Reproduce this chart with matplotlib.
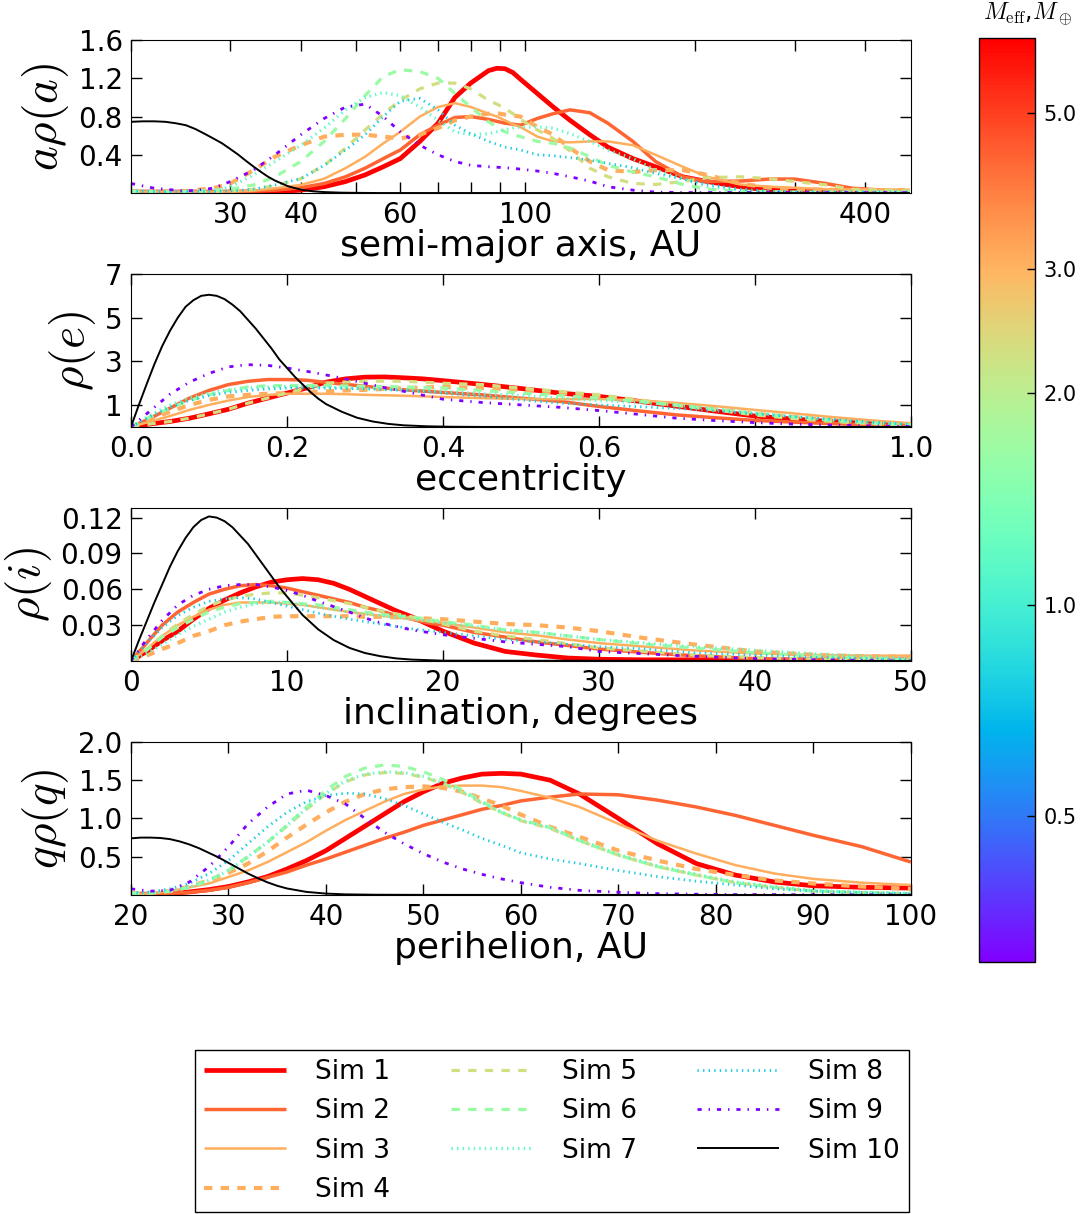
import numpy as np
import matplotlib
matplotlib.use('Agg')
import matplotlib.pyplot as plt
from matplotlib.colors import LogNorm
from matplotlib.cm import ScalarMappable

plt.rcParams['mathtext.fontset'] = 'cm'
plt.rcParams['font.family'] = ['DejaVu Sans']
plt.rcParams['lines.scale_dashes'] = False

# ---------------- data ----------------
SIM_LABELS = ['Sim 1', 'Sim 2', 'Sim 3', 'Sim 4', 'Sim 5', 'Sim 6', 'Sim 7', 'Sim 8', 'Sim 9', 'Sim 10']
SIM_MASS = [6.4, 4.3, 3.1, 3.1, 2.3, 1.65, 1.14, 0.77, 0.31, None]   # M_eff in Earth masses (None -> black)
MASS_MIN, MASS_MAX = 0.31, 6.4
CBAR_TICKS = [0.5, 1.0, 2.0, 3.0, 5.0]

# ---- semi-major axis (AU) and a*rho(a) ----
A_GRID = [20, 22, 25, 28, 30, 33, 36, 40, 44, 48, 52, 56, 60, 65, 70, 75, 80, 86, 89, 92, 95, 98,
          105, 112, 120, 130, 140, 155, 170, 190, 210, 240, 270, 300, 340, 380, 430, 480]
a_sim1 = [0.01, 0.01, 0.01, 0.01, 0.01, 0.01, 0.012, 0.03, 0.066, 0.12, 0.19, 0.275, 0.36, 0.54, 0.73, 1.0, 1.15, 1.28, 1.305, 1.30, 1.26, 1.19,
          1.04, 0.90, 0.76, 0.61, 0.48, 0.36, 0.275, 0.17, 0.12, 0.066, 0.03, 0.02, 0.015, 0.015, 0.015, 0.015]
a_sim2 = [0.01, 0.01, 0.01, 0.01, 0.012, 0.02, 0.03, 0.056, 0.10, 0.17, 0.26, 0.36, 0.45, 0.61, 0.71, 0.79, 0.80, 0.77, 0.75, 0.73, 0.72, 0.71,
          0.78, 0.83, 0.87, 0.84, 0.73, 0.54, 0.33, 0.17, 0.12, 0.125, 0.146, 0.146, 0.10, 0.05, 0.03, 0.02]
a_sim3 = [0.015, 0.015, 0.015, 0.015, 0.015, 0.025, 0.05, 0.085, 0.15, 0.26, 0.38, 0.52, 0.64, 0.80, 0.90, 0.94, 0.90, 0.83, 0.80, 0.76, 0.72, 0.69,
          0.59, 0.54, 0.53, 0.54, 0.54, 0.50, 0.40, 0.275, 0.17, 0.09, 0.066, 0.056, 0.04, 0.038, 0.035, 0.035]
a_sim4 = [0.015, 0.015, 0.02, 0.05, 0.10, 0.24, 0.38, 0.50, 0.59, 0.61, 0.61, 0.59, 0.57, 0.61, 0.68, 0.76, 0.80, 0.83, 0.835, 0.82, 0.81, 0.80,
          0.69, 0.61, 0.47, 0.33, 0.24, 0.22, 0.24, 0.24, 0.19, 0.10, 0.056, 0.04, 0.035, 0.03, 0.03, 0.03]
a_sim5 = [0.015, 0.015, 0.015, 0.015, 0.02, 0.04, 0.077, 0.15, 0.29, 0.47, 0.66, 0.83, 0.97, 1.09, 1.15, 1.15, 1.09, 0.97, 0.93, 0.885, 0.83, 0.77,
          0.66, 0.57, 0.44, 0.26, 0.17, 0.10, 0.09, 0.12, 0.16, 0.17, 0.15, 0.12, 0.085, 0.04, 0.03, 0.02]
a_sim6 = [0.015, 0.015, 0.015, 0.03, 0.04, 0.085, 0.17, 0.33, 0.54, 0.78, 1.02, 1.22, 1.29, 1.27, 1.20, 1.04, 0.90, 0.745, 0.69, 0.64, 0.61, 0.59,
          0.54, 0.52, 0.47, 0.38, 0.29, 0.22, 0.17, 0.09, 0.04, 0.02, 0.015, 0.01, 0.01, 0.01, 0.01, 0.01]
a_sim7 = [0.03, 0.02, 0.02, 0.02, 0.066, 0.19, 0.33, 0.50, 0.68, 0.87, 1.0, 1.05, 1.02, 0.90, 0.76, 0.64, 0.61, 0.62, 0.64, 0.66, 0.68, 0.69,
          0.69, 0.68, 0.62, 0.54, 0.45, 0.36, 0.24, 0.15, 0.066, 0.03, 0.015, 0.01, 0.01, 0.01, 0.01, 0.01]
a_sim8 = [0.02, 0.015, 0.015, 0.015, 0.02, 0.04, 0.085, 0.15, 0.29, 0.45, 0.61, 0.80, 0.96, 0.99, 0.87, 0.71, 0.62, 0.54, 0.51, 0.48, 0.465, 0.45,
          0.40, 0.39, 0.37, 0.345, 0.31, 0.265, 0.205, 0.146, 0.09, 0.04, 0.02, 0.01, 0.01, 0.01, 0.01, 0.01]
a_sim9 = [0.10, 0.05, 0.02, 0.05, 0.12, 0.24, 0.40, 0.61, 0.78, 0.90, 0.93, 0.80, 0.64, 0.50, 0.40, 0.33, 0.29, 0.275, 0.27, 0.265, 0.258, 0.25,
          0.23, 0.205, 0.17, 0.125, 0.066, 0.03, 0.01, 0.005, 0.005, 0.005, 0.005, 0.005, 0.005, 0.005, 0.005, 0.005]
A_GRID_SIM10 = [20, 21, 22, 23, 24, 25, 26, 27, 28, 29, 30, 31, 32, 33, 34, 35, 36, 38, 40, 42, 44, 47, 50, 55, 60, 480]
a_sim10 = [0.745, 0.75, 0.75, 0.745, 0.73, 0.71, 0.67, 0.62, 0.57, 0.52, 0.46, 0.40, 0.335, 0.275, 0.22, 0.17, 0.13,
           0.07, 0.035, 0.018, 0.01, 0.004, 0.002, 0.0, 0.0, 0.0]

# ---- eccentricity and rho(e) ----
E_GRID = [0.0, 0.025, 0.05, 0.075, 0.1, 0.125, 0.15, 0.175, 0.2, 0.225, 0.25, 0.275, 0.3, 0.325, 0.35, 0.375, 0.4,
          0.45, 0.5, 0.55, 0.6, 0.65, 0.7, 0.75, 0.8, 0.85, 0.9, 0.95, 1.0]
e_sim1 = [0, 0.14, 0.25, 0.4, 0.6, 0.81, 1.09, 1.32, 1.55, 1.78, 2.05, 2.2, 2.28, 2.29, 2.25, 2.2, 2.12,
          1.95, 1.76, 1.55, 1.4, 1.18, 0.95, 0.72, 0.5, 0.36, 0.25, 0.15, 0.08]
e_sim2 = [0, 0.4, 0.86, 1.32, 1.67, 1.94, 2.09, 2.17, 2.17, 2.14, 2.04, 1.95, 1.86, 1.78, 1.7, 1.64, 1.58,
          1.47, 1.32, 1.17, 0.94, 0.74, 0.55, 0.42, 0.3, 0.22, 0.15, 0.09, 0.05]
e_sim3 = [0, 0.25, 0.5, 0.78, 1.01, 1.21, 1.37, 1.46, 1.52, 1.52, 1.52, 1.5, 1.47, 1.45, 1.43, 1.4, 1.37,
          1.32, 1.28, 1.27, 1.28, 1.22, 1.1, 0.95, 0.78, 0.62, 0.45, 0.3, 0.17]
e_sim4 = [0, 0.35, 0.7, 1.0, 1.24, 1.4, 1.47, 1.52, 1.55, 1.6, 1.63, 1.67, 1.7, 1.74, 1.78, 1.81, 1.83,
          1.78, 1.7, 1.55, 1.4, 1.2, 1.0, 0.8, 0.6, 0.45, 0.3, 0.18, 0.1]
e_sim5 = [0, 0.14, 0.25, 0.4, 0.6, 0.81, 1.09, 1.32, 1.55, 1.8, 2.0, 2.06, 2.09, 2.1, 2.09, 2.05, 2.0,
          1.94, 1.78, 1.63, 1.47, 1.25, 1.0, 0.78, 0.55, 0.38, 0.25, 0.15, 0.08]
e_sim6 = [0, 0.48, 0.86, 1.21, 1.47, 1.67, 1.83, 1.89, 1.9, 1.9, 1.89, 1.88, 1.86, 1.85, 1.83, 1.8, 1.78,
          1.67, 1.55, 1.43, 1.32, 1.17, 1.0, 0.8, 0.6, 0.45, 0.3, 0.18, 0.1]
e_sim7 = [0, 0.55, 1.0, 1.32, 1.55, 1.7, 1.78, 1.83, 1.86, 1.85, 1.83, 1.8, 1.78, 1.74, 1.7, 1.67, 1.63,
          1.52, 1.43, 1.32, 1.21, 1.12, 1.0, 0.83, 0.65, 0.47, 0.3, 0.18, 0.1]
e_sim8 = [0, 0.48, 0.9, 1.21, 1.43, 1.58, 1.67, 1.74, 1.78, 1.78, 1.78, 1.76, 1.74, 1.71, 1.67, 1.61, 1.55,
          1.4, 1.24, 1.09, 1.01, 0.93, 0.85, 0.73, 0.6, 0.47, 0.35, 0.22, 0.12]
e_sim9 = [0, 0.75, 1.5, 2.05, 2.45, 2.75, 2.85, 2.82, 2.7, 2.55, 2.38, 2.2, 2.0, 1.8, 1.63, 1.45, 1.27,
          1.12, 1.01, 0.9, 0.75, 0.58, 0.4, 0.29, 0.2, 0.13, 0.08, 0.045, 0.02]
E_GRID_SIM10 = [0.0, 0.01, 0.02, 0.03, 0.04, 0.05, 0.06, 0.07, 0.08, 0.09, 0.1, 0.11, 0.12, 0.13, 0.14, 0.15, 0.16,
                0.17, 0.18, 0.19, 0.2, 0.21, 0.22, 0.23, 0.24, 0.25, 0.27, 0.29, 0.31, 0.33, 0.35, 0.38, 0.41, 0.45, 1.0]
e_sim10 = [0, 1.0, 1.95, 2.87, 3.7, 4.4, 5.0, 5.5, 5.8, 6.0, 6.05, 6.0, 5.85, 5.6, 5.3, 4.9, 4.5,
           4.05, 3.6, 3.1, 2.7, 2.3, 1.95, 1.6, 1.3, 1.05, 0.7, 0.42, 0.25, 0.14, 0.075, 0.03, 0.01, 0.002, 0.0]

# ---- inclination (deg) and rho(i) ----
I_GRID = [0, 1, 2, 3, 4, 5, 6, 7, 8, 9, 10, 11, 12, 13, 14, 15, 16, 17, 18, 19, 20,
          22, 24, 26, 28, 30, 33, 36, 40, 44, 47, 50]
i_sim1 = [0, 0.008, 0.017, 0.025, 0.035, 0.044, 0.051, 0.057, 0.062, 0.066, 0.068, 0.069, 0.068, 0.065, 0.06, 0.054, 0.048, 0.042, 0.037, 0.031, 0.025,
          0.015, 0.008, 0.005, 0.0025, 0.0015, 0.001, 0.001, 0.001, 0.001, 0.001, 0.001]
i_sim2 = [0, 0.015, 0.03, 0.041, 0.049, 0.056, 0.06, 0.063, 0.064, 0.063, 0.061, 0.058, 0.055, 0.052, 0.049, 0.045, 0.042, 0.038, 0.035, 0.032, 0.03,
          0.024, 0.02, 0.016, 0.013, 0.01, 0.007, 0.0045, 0.002, 0.001, 0.001, 0.001]
i_sim3 = [0, 0.01, 0.021, 0.03, 0.037, 0.043, 0.047, 0.049, 0.049, 0.049, 0.048, 0.047, 0.045, 0.043, 0.041, 0.0395, 0.038, 0.0365, 0.035, 0.0335, 0.032,
          0.028, 0.024, 0.0215, 0.018, 0.015, 0.012, 0.009, 0.0063, 0.005, 0.0045, 0.0045]
i_sim4 = [0, 0.0045, 0.01, 0.015, 0.021, 0.025, 0.03, 0.033, 0.035, 0.037, 0.0375, 0.0375, 0.0375, 0.0375, 0.0375, 0.037, 0.037, 0.0365, 0.036, 0.0355, 0.035,
          0.033, 0.031, 0.03, 0.028, 0.025, 0.019, 0.014, 0.008, 0.005, 0.004, 0.0034]
i_sim5 = [0, 0.01, 0.021, 0.031, 0.039, 0.046, 0.051, 0.054, 0.056, 0.057, 0.057, 0.055, 0.053, 0.0505, 0.048, 0.045, 0.042, 0.0395, 0.037, 0.034, 0.031,
          0.025, 0.021, 0.018, 0.0145, 0.011, 0.008, 0.005, 0.003, 0.0015, 0.001, 0.0005]
i_sim6 = [0, 0.009, 0.02, 0.028, 0.035, 0.041, 0.045, 0.048, 0.049, 0.05, 0.049, 0.048, 0.047, 0.045, 0.043, 0.041, 0.039, 0.038, 0.037, 0.035, 0.033,
          0.03, 0.026, 0.024, 0.021, 0.018, 0.014, 0.011, 0.007, 0.004, 0.0025, 0.001]
i_sim7 = [0, 0.006, 0.014, 0.022, 0.029, 0.035, 0.041, 0.045, 0.048, 0.049, 0.049, 0.047, 0.045, 0.043, 0.041, 0.0395, 0.038, 0.0365, 0.035, 0.0335, 0.032,
          0.029, 0.026, 0.024, 0.021, 0.018, 0.015, 0.012, 0.009, 0.006, 0.004, 0.002]
i_sim8 = [0, 0.015, 0.028, 0.038, 0.045, 0.05, 0.052, 0.053, 0.052, 0.049, 0.046, 0.043, 0.04, 0.0375, 0.035, 0.033, 0.031, 0.029, 0.027, 0.0255, 0.024,
          0.021, 0.018, 0.016, 0.014, 0.012, 0.01, 0.007, 0.005, 0.003, 0.002, 0.001]
i_sim9 = [0, 0.018, 0.034, 0.047, 0.055, 0.06, 0.063, 0.064, 0.064, 0.062, 0.059, 0.055, 0.05, 0.0455, 0.041, 0.036, 0.032, 0.029, 0.026, 0.024, 0.022,
          0.019, 0.016, 0.014, 0.012, 0.008, 0.006, 0.004, 0.002, 0.001, 0.0005, 0.0]
I_GRID_SIM10 = [0, 0.5, 1, 1.5, 2, 2.5, 3, 3.5, 4, 4.5, 5, 5.5, 6, 6.5, 7, 7.5, 8, 8.5, 9, 9.5, 10,
                11, 12, 13, 14, 15, 16, 17, 18, 20, 50]
i_sim10 = [0, 0.017, 0.033, 0.049, 0.064, 0.079, 0.092, 0.103, 0.112, 0.118, 0.121, 0.12, 0.117, 0.112, 0.105, 0.098, 0.089, 0.08, 0.071, 0.062, 0.054,
           0.0385, 0.0265, 0.0175, 0.011, 0.0067, 0.004, 0.0022, 0.0012, 0.0003, 0.0]

# ---- perihelion (AU) and q*rho(q) ----
Q_GRID = [20, 22, 24, 26, 28, 30, 32, 34, 36, 38, 40, 42, 44, 46, 48, 50, 52, 54, 56, 58, 60, 63, 66, 70, 74, 78, 82, 86, 90, 95, 100]
q_sim1 = [0.01, 0.01, 0.02, 0.04, 0.07, 0.11, 0.17, 0.24, 0.34, 0.45, 0.58, 0.74, 0.90, 1.06, 1.22, 1.35, 1.46, 1.53, 1.58, 1.59, 1.58, 1.50, 1.32, 1.0, 0.67, 0.41, 0.26, 0.17, 0.12, 0.1, 0.09]
q_sim2 = [0.005, 0.01, 0.02, 0.035, 0.06, 0.10, 0.16, 0.23, 0.30, 0.39, 0.47, 0.56, 0.65, 0.74, 0.82, 0.91, 0.98, 1.05, 1.12, 1.17, 1.23, 1.28, 1.32, 1.31, 1.24, 1.15, 1.04, 0.91, 0.78, 0.63, 0.43]
q_sim3 = [0.01, 0.02, 0.05, 0.10, 0.15, 0.235, 0.32, 0.43, 0.56, 0.69, 0.84, 0.98, 1.10, 1.22, 1.32, 1.38, 1.42, 1.43, 1.43, 1.41, 1.36, 1.27, 1.15, 0.93, 0.71, 0.54, 0.39, 0.28, 0.21, 0.16, 0.13]
q_sim4 = [0.02, 0.025, 0.05, 0.11, 0.19, 0.29, 0.41, 0.57, 0.75, 0.92, 1.08, 1.22, 1.32, 1.38, 1.41, 1.42, 1.40, 1.35, 1.26, 1.17, 1.05, 0.89, 0.76, 0.58, 0.45, 0.34, 0.26, 0.19, 0.15, 0.11, 0.08]
q_sim5 = [0.02, 0.025, 0.05, 0.10, 0.19, 0.32, 0.50, 0.69, 0.90, 1.12, 1.32, 1.48, 1.57, 1.60, 1.59, 1.54, 1.46, 1.34, 1.20, 1.08, 0.97, 0.87, 0.71, 0.52, 0.37, 0.26, 0.16, 0.10, 0.05, 0.03, 0.017]
q_sim6 = [0.02, 0.025, 0.05, 0.10, 0.19, 0.32, 0.50, 0.69, 0.91, 1.15, 1.37, 1.55, 1.66, 1.70, 1.68, 1.61, 1.51, 1.37, 1.22, 1.08, 0.98, 0.88, 0.71, 0.52, 0.37, 0.26, 0.16, 0.10, 0.05, 0.03, 0.017]
q_sim7 = [0.02, 0.025, 0.05, 0.10, 0.19, 0.32, 0.50, 0.69, 0.91, 1.13, 1.33, 1.49, 1.58, 1.61, 1.60, 1.55, 1.46, 1.35, 1.21, 1.08, 0.98, 0.88, 0.72, 0.53, 0.38, 0.27, 0.17, 0.11, 0.06, 0.035, 0.02]
q_sim8 = [0.026, 0.04, 0.08, 0.15, 0.28, 0.45, 0.67, 0.89, 1.08, 1.22, 1.30, 1.33, 1.32, 1.26, 1.17, 1.06, 0.95, 0.85, 0.74, 0.65, 0.55, 0.47, 0.41, 0.32, 0.24, 0.18, 0.13, 0.08, 0.05, 0.03, 0.017]
q_sim9 = [0.08, 0.05, 0.06, 0.17, 0.37, 0.63, 0.93, 1.15, 1.32, 1.37, 1.30, 1.19, 1.0, 0.82, 0.67, 0.54, 0.43, 0.34, 0.27, 0.21, 0.16, 0.10, 0.06, 0.035, 0.017, 0.01, 0.005, 0.005, 0.003, 0.002, 0.001]
Q_GRID_SIM10 = [20, 21, 22, 23, 24, 25, 26, 27, 28, 29, 30, 31, 32, 33, 34, 35, 36, 38, 40, 42, 45, 50, 100]
q_sim10 = [0.74, 0.75, 0.75, 0.745, 0.73, 0.70, 0.66, 0.61, 0.55, 0.49, 0.42, 0.35, 0.28, 0.22, 0.165, 0.12, 0.085,
           0.04, 0.018, 0.008, 0.003, 0.001, 0.0]

A_X = [A_GRID] * 9 + [A_GRID_SIM10]
E_X = [E_GRID] * 9 + [E_GRID_SIM10]
I_X = [I_GRID] * 9 + [I_GRID_SIM10]
Q_X = [Q_GRID] * 9 + [Q_GRID_SIM10]
A_SERIES = [a_sim1, a_sim2, a_sim3, a_sim4, a_sim5, a_sim6, a_sim7, a_sim8, a_sim9, a_sim10]
E_SERIES = [e_sim1, e_sim2, e_sim3, e_sim4, e_sim5, e_sim6, e_sim7, e_sim8, e_sim9, e_sim10]
I_SERIES = [i_sim1, i_sim2, i_sim3, i_sim4, i_sim5, i_sim6, i_sim7, i_sim8, i_sim9, i_sim10]
Q_SERIES = [q_sim1, q_sim2, q_sim3, q_sim4, q_sim5, q_sim6, q_sim7, q_sim8, q_sim9, q_sim10]

# ---------------- styles ----------------
STYLES = [
    dict(ls='-', lw=3.4),
    dict(ls='-', lw=2.5),
    dict(ls='-', lw=1.8),
    dict(ls=(0, (6, 6)), lw=3.0),
    dict(ls=(0, (6, 6)), lw=2.3),
    dict(ls=(0, (6, 6)), lw=2.3),
    dict(ls=(0, (1, 3)), lw=2.3),
    dict(ls=(0, (1, 3)), lw=2.0),
    dict(ls=(0, (3, 5, 1, 5)), lw=2.0),
    dict(ls='-', lw=1.4),
]

cmap = plt.get_cmap('rainbow')
norm = LogNorm(vmin=MASS_MIN, vmax=MASS_MAX)
colors = [cmap(norm(m)) if m is not None else 'black' for m in SIM_MASS]

fig = plt.figure(figsize=(10.86, 12.14), dpi=100)

L, W = 0.1206, 0.7182
panel_specs = [
    (0.8410, A_X, A_SERIES, r'$a\rho(a)$', 'semi-major axis, AU'),
    (0.6483, E_X, E_SERIES, r'$\rho(e)$', 'eccentricity'),
    (0.4555, I_X, I_SERIES, r'$\rho(i)$', 'inclination, degrees'),
    (0.2628, Q_X, Q_SERIES, r'$q\rho(q)$', 'perihelion, AU'),
]

TICK_FS = 20
LABEL_FS = 26
axes = []
for bottom, xs, series, ylab, xlab in panel_specs:
    ax = fig.add_axes([L, bottom, W, 0.126])
    for k in range(10):
        ax.plot(xs[k], series[k], color=colors[k], linestyle=STYLES[k]['ls'],
                linewidth=STYLES[k]['lw'], label=SIM_LABELS[k], solid_capstyle='butt',
                dash_capstyle='butt', solid_joinstyle='round')
    ax.set_ylabel(ylab, fontsize=34, labelpad=5)
    ax.set_xlabel(xlab, fontsize=LABEL_FS, labelpad=0)
    ax.tick_params(which='both', direction='in', top=True, right=True,
                   length=8, width=1, labelsize=TICK_FS, pad=6)
    axes.append(ax)

ax1, ax2, ax3, ax4 = axes
ax1.set_xscale('log')
ax1.set_xlim(20, 482)
ax1.set_ylim(0, 1.6)
A_TICKS = [20, 30, 40, 50, 60, 70, 80, 90, 100, 200, 300, 400]
A_TICKLABELS = ['', '30', '40', '', '60', '', '', '', '100', '200', '', '400']
ax1.xaxis.set_minor_locator(matplotlib.ticker.NullLocator())
ax1.set_xticks(A_TICKS)
ax1.set_xticklabels(A_TICKLABELS)
ax1.set_yticks([0.4, 0.8, 1.2, 1.6])
ax1.set_yticklabels(['0.4', '0.8', '1.2', '1.6'])

ax2.set_xlim(0, 1.0)
ax2.set_ylim(0, 7)
ax2.set_xticks([0.0, 0.2, 0.4, 0.6, 0.8, 1.0])
ax2.set_xticklabels(['0.0', '0.2', '0.4', '0.6', '0.8', '1.0'])
ax2.set_yticks([1, 3, 5, 7])

ax3.set_xlim(0, 50)
ax3.set_ylim(0, 0.128)
ax3.set_xticks([0, 10, 20, 30, 40, 50])
ax3.set_yticks([0.03, 0.06, 0.09, 0.12])
ax3.set_yticklabels(['0.03', '0.06', '0.09', '0.12'])

ax4.set_xlim(20, 100)
ax4.set_ylim(0, 2.0)
ax4.set_xticks([20, 30, 40, 50, 60, 70, 80, 90, 100])
ax4.set_yticks([0.5, 1.0, 1.5, 2.0])
ax4.set_yticklabels(['0.5', '1.0', '1.5', '2.0'])

# colorbar
cax = fig.add_axes([0.9015, 0.2076, 0.0516, 0.761])
sm = ScalarMappable(norm=norm, cmap=cmap)
cb = fig.colorbar(sm, cax=cax, ticks=CBAR_TICKS)
cb.ax.minorticks_off()
cb.set_ticks(CBAR_TICKS)
cb.set_ticklabels(['%.1f' % t for t in CBAR_TICKS])
cb.ax.tick_params(direction='in', length=6, width=1, labelsize=15, pad=6)
cb.outline.set_linewidth(1)
fig.text(1028 / 1086, 1 - 14 / 1214, r'$M_{\rm eff}$,$M_\oplus$', ha='center', va='center', fontsize=17)

# legend
handles, labels = ax4.get_legend_handles_labels()
leg = fig.legend(handles, labels, ncol=3, loc='center', bbox_to_anchor=(0.5083, 0.0684),
                 fontsize=19, handlelength=3.1, handletextpad=1.1, columnspacing=2.3,
                 labelspacing=0.51, borderpad=0.33, fancybox=False, framealpha=1.0,
                 edgecolor='black')
leg.get_frame().set_linewidth(1.0)

fig.savefig('out.png', dpi=100)
